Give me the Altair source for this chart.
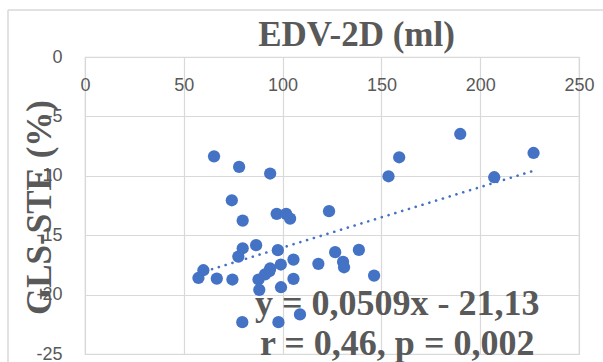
import altair as alt
import pandas as pd

# EDV-2D (ml) values
edv = [65.3, 78.0, 93.7, 74.3, 79.8, 97.0, 101.8, 103.8, 86.6, 79.8,
       77.6, 97.6, 59.9, 57.4, 66.7, 74.6, 87.8, 88.2, 93.3, 99.1,
       105.5, 99.2, 105.5, 79.6, 97.9, 108.8, 123.5, 153.6, 159.0, 189.9,
       227.0, 207.1, 126.6, 138.6, 118.1, 130.6, 131.1, 146.3, 93.7, 91.1]
# GLS-STE (%) values
gls = [-8.36, -9.25, -9.81, -12.06, -13.77, -13.2, -13.2, -13.6, -15.84, -16.1,
       -16.8, -16.26, -17.95, -18.6, -18.65, -18.73, -18.73, -19.6, -18.03, -17.47,
       -17.05, -19.38, -18.67, -22.32, -22.32, -21.67, -12.98, -10.04, -8.44, -6.48,
       -8.08, -10.12, -16.43, -16.24, -17.41, -17.25, -17.7, -18.4, -17.8, -18.3]

x_ticks = [0, 50, 100, 150, 200, 250]
y_ticks = [0, -5, -10, -15, -20, -25]

slope = 0.0509
intercept = -21.13

ann_text = ["y = 0,0509x - 21,13", "r = 0,46, p = 0,002"]
ann_x = [158, 158]
ann_y = [-21.73, -25.05]

BLUE = "#4472C4"
GRAY = "#595959"
GRID = "#d9d9d9"
SERIF = "Liberation Serif"
SANS = "Liberation Sans"

pts = pd.DataFrame({"edv": edv, "gls": gls})
trend = pd.DataFrame({"edv": [min(edv), max(edv)]})
ann = pd.DataFrame({"t": ann_text, "x": ann_x, "y": ann_y})

xscale = alt.Scale(domain=[0, 250], nice=False, zero=False)
yscale = alt.Scale(domain=[-25, 0], nice=False, zero=False)

xaxis = alt.Axis(
    orient="top", values=x_ticks, title="EDV-2D (ml)",
    titleFont=SERIF, titleFontSize=35, titleFontWeight="bold", titleColor=GRAY,
    titleX=271, titleY=-12, titleAlign="center", titleBaseline="alphabetic",
    ticks=False, domain=False, labelPadding=-28, labelBaseline="middle",
    labelFont=SANS, labelFontSize=18, labelColor=GRAY, labelFlush=False,
    labelOverlap=False, grid=True, gridColor=GRID, gridWidth=1.2,
)
yaxis = alt.Axis(
    orient="left", values=y_ticks, title="GLS-STE (%)",
    titleFont=SERIF, titleFontSize=35, titleFontWeight="bold", titleColor=GRAY,
    titleAngle=270, titleX=-35, titleY=150, titleAlign="center", titleBaseline="alphabetic",
    ticks=False, domain=False, labelPadding=23,
    labelFont=SANS, labelFontSize=18, labelColor=GRAY, labelFlush=False,
    labelOverlap=False, labelExpr="toString(datum.value)",
    grid=True, gridColor=GRID, gridWidth=1.2,
)

points = alt.Chart(pts).mark_circle(size=150, color=BLUE, opacity=1).encode(
    x=alt.X("edv:Q", scale=xscale, axis=xaxis),
    y=alt.Y("gls:Q", scale=yscale, axis=yaxis),
)

line = alt.Chart(trend).transform_calculate(
    fit=f"{slope} * datum.edv + ({intercept})"
).mark_line(color=BLUE, strokeWidth=2.6, strokeDash=[0.1, 7], strokeCap="round").encode(
    x=alt.X("edv:Q", scale=xscale),
    y=alt.Y("fit:Q", scale=yscale),
)

text = alt.Chart(ann).mark_text(
    font=SERIF, fontSize=36, fontWeight="bold", color=GRAY,
    align="center", baseline="alphabetic",
).encode(
    x=alt.X("x:Q", scale=xscale),
    y=alt.Y("y:Q", scale=yscale),
    text="t:N",
)

# outer chart-area border (decoration)
border_left = alt.Chart(pd.DataFrame({"a": [0]})).mark_rule(color=GRID, strokeWidth=1.5).encode(
    x=alt.value(-77), y=alt.value(-47), y2=alt.value(310)
)
border_top = alt.Chart(pd.DataFrame({"a": [0]})).mark_rule(color=GRID, strokeWidth=1.5).encode(
    x=alt.value(-77), x2=alt.value(530), y=alt.value(-47)
)

chart = alt.layer(border_left, border_top, points, line, text).properties(
    width=494, height=297,
    autosize=alt.AutoSizeParams(type="none"),
    padding={"left": 85, "top": 57, "right": 24, "bottom": 8},
    background="white",
).configure_view(stroke=GRID, strokeWidth=1.2)

chart.save("out.html", embed_options={"renderer": "svg", "actions": False})
